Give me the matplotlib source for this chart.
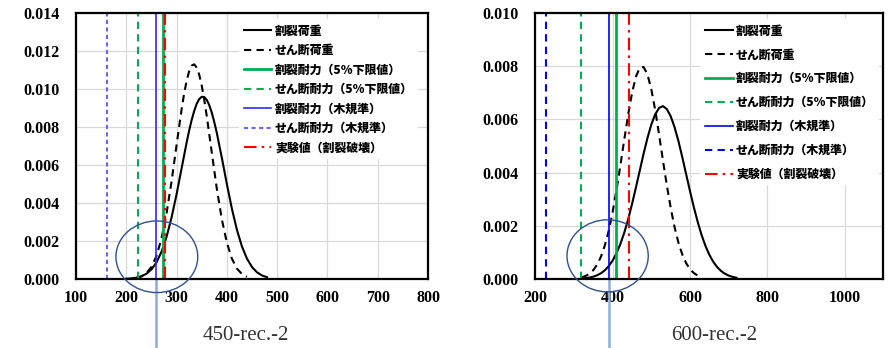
import matplotlib
matplotlib.use("Agg")
import matplotlib.pyplot as plt
from matplotlib.patches import Ellipse
from matplotlib import transforms

# 450-rec.-2 : 荷重分布（割裂・せん断）
x_450_split = [200, 210, 220, 230, 240, 250, 260, 270, 280, 290, 300, 310, 320, 325, 330, 335,
               340, 345, 350, 355, 360, 365, 370, 375, 380, 390, 400, 410, 420, 430, 440, 450,
               460, 470, 480]
y_450_split = [0.000014, 0.000032, 0.000069, 0.000141, 0.000274, 0.000503, 0.000871, 0.001428,
               0.00221, 0.00323, 0.00446, 0.00582, 0.00718, 0.00781, 0.00837, 0.00884, 0.00922,
               0.00947, 0.00959, 0.00958, 0.00943, 0.00915, 0.00876, 0.00826, 0.00769, 0.00638,
               0.00500, 0.00370, 0.00259, 0.00171, 0.00107, 0.00063, 0.00035, 0.000185, 0.000092]
x_450_shear = [220, 230, 240, 250, 260, 270, 280, 290, 300, 310, 315, 320, 325, 330, 335, 340,
               345, 350, 355, 360, 370, 380, 390, 400, 410, 420, 430, 440]
y_450_shear = [0.000056, 0.000137, 0.000307, 0.000634, 0.00121, 0.00212, 0.00344, 0.00513,
               0.00705, 0.00893, 0.00975, 0.01043, 0.01093, 0.01123, 0.01130, 0.01113, 0.01076,
               0.01018, 0.00944, 0.00858, 0.00666, 0.00476, 0.00314, 0.00191, 0.00107, 0.00055,
               0.000263, 0.000115]
# 耐力・実験値（縦線）
v_450 = [273, 224, 259, 161, 277]

# 600-rec.-2
x_600_split = [320, 330, 340, 350, 360, 370, 380, 390, 400, 410, 420, 430, 440, 450, 460, 470,
               480, 490, 500, 510, 520, 530, 540, 550, 560, 570, 580, 590, 600, 610, 620, 630,
               640, 650, 660, 670, 680, 690, 700, 710, 720]
y_600_split = [0.000018, 0.000032, 0.000054, 0.000088, 0.000140, 0.000218, 0.000329, 0.000485,
               0.000695, 0.000969, 0.001316, 0.00174, 0.00224, 0.00281, 0.00343, 0.00407,
               0.00471, 0.00530, 0.00581, 0.00619, 0.00643, 0.00650, 0.00639, 0.00612, 0.00571,
               0.00519, 0.00458, 0.00394, 0.00330, 0.00269, 0.00214, 0.00165, 0.00124, 0.000909,
               0.000648, 0.000450, 0.000304, 0.000200, 0.000128, 0.000080, 0.000048]
x_600_shear = [320, 330, 340, 350, 360, 370, 380, 390, 400, 410, 420, 430, 440, 450, 460, 470,
               480, 490, 500, 510, 520, 530, 540, 550, 560, 570, 580, 590, 600, 610, 620, 630]
y_600_shear = [0.000062, 0.000113, 0.000198, 0.000334, 0.000543, 0.000846, 0.00127, 0.00182,
               0.00252, 0.00335, 0.00427, 0.00524, 0.00617, 0.00699, 0.00760, 0.00794, 0.00797,
               0.00769, 0.00713, 0.00635, 0.00543, 0.00446, 0.00353, 0.00268, 0.00195, 0.00137,
               0.00092, 0.000595, 0.00037, 0.000221, 0.000127, 0.000070]
v_600 = [408, 318, 390, 229, 442]

labels = ["割裂荷重", "せん断荷重", "割裂耐力（5%下限値）", "せん断耐力（5%下限値）",
          "割裂耐力（木規準）", "せん断耐力（木規準）", "実験値（割裂破壊）"]

GREEN = "#00B050"
RED = "#FF0000"

fig = plt.figure(figsize=(8.96, 3.48), dpi=100)
ax1 = fig.add_axes([0.0848, 0.1983, 0.3929, 0.7643])
ax2 = fig.add_axes([0.5974, 0.1983, 0.3886, 0.7643])

tick_font = dict(family="Liberation Serif", weight="bold", size=11.5)
legend_font = dict(family=["Noto Sans CJK JP", "DejaVu Sans"], weight="heavy", size=8.6)


def draw(ax, xs, ys, xd, yd, v, shear_blue_style, shear_blue_color, blue_solid_color):
    ax.plot(xs, ys, color="black", lw=1.5, label=labels[0])
    ax.plot(xd, yd, color="black", lw=1.5, ls=(0, (3.5, 2.5)), label=labels[1])
    ax.axvline(v[0], color=GREEN, lw=2, label=labels[2])
    ax.axvline(v[1], color=GREEN, lw=1.5, ls=(0, (3.5, 2.5)), label=labels[3])
    ax.axvline(v[2], color=blue_solid_color, lw=1.2, label=labels[4])
    ax.axvline(v[3], color=shear_blue_color, lw=1.5, ls=shear_blue_style, label=labels[5])
    ax.axvline(v[4], color=RED, lw=1.5, ls=(0, (6, 2.5, 1.2, 2.5)), label=labels[6])
    ax.grid(True, color="#D9D9D9", lw=0.9)
    ax.set_axisbelow(True)
    for s in ax.spines.values():
        s.set_linewidth(1.6)
    ax.tick_params(length=0)
    ax.tick_params(axis="y", pad=12)
    ax.tick_params(axis="x", pad=8)


draw(ax1, x_450_split, y_450_split, x_450_shear, y_450_shear, v_450,
     (0, (2, 1.6)), "#6666FF", "#2A2AFF")
ax1.set_xlim(100, 800)
ax1.set_ylim(0, 0.014)
ax1.set_xticks(range(100, 801, 100))
ax1.set_yticks([0.0, 0.002, 0.004, 0.006, 0.008, 0.010, 0.012, 0.014])
ax1.set_yticklabels([f"{t:.3f}" for t in ax1.get_yticks()], **tick_font)
ax1.set_xticklabels([str(t) for t in range(100, 801, 100)], **tick_font)

draw(ax2, x_600_split, y_600_split, x_600_shear, y_600_shear, v_600,
     (0, (3.5, 2.5)), "#0000FF", "#0000FF")
ax2.set_xlim(200, 1100)
ax2.set_ylim(0, 0.010)
ax2.set_xticks(range(200, 1001, 200))
ax2.set_yticks([0.0, 0.002, 0.004, 0.006, 0.008, 0.010])
ax2.set_yticklabels([f"{t:.3f}" for t in ax2.get_yticks()], **tick_font)
ax2.set_xticklabels([str(t) for t in range(200, 1001, 200)], **tick_font)

leg_kw = dict(loc="upper left", prop=legend_font, frameon=True, facecolor="white",
              edgecolor="none", framealpha=1, fancybox=False, handlelength=2.3,
              handletextpad=0.3, borderpad=0.45)
leg1 = ax1.legend(bbox_to_anchor=(0.445, 1.0), labelspacing=0.63, **leg_kw)
leg2 = ax2.legend(bbox_to_anchor=(0.455, 1.0), labelspacing=1.0, **leg_kw)
# 凡例の白地は枠線の下に置く
leg1.set_zorder(2.3)
leg2.set_zorder(2.3)

# 注目範囲の丸印と引出し線
for ax, cx, cy, w, h in [(ax1, 260.8, 0.00117, 162.7, 0.00377),
                         (ax2, 387, 0.00087, 210, 0.00271)]:
    ax.add_patch(Ellipse((cx, cy), w, h, fill=False, edgecolor="#2F528F", lw=1.0,
                         clip_on=False, zorder=5))

for ax, xv in [(ax1, v_450[2]), (ax2, v_600[2])]:
    tr = transforms.blended_transform_factory(ax.transData, ax.transAxes)
    ax.plot([xv, xv], [0, -0.26], color="#8FAADC", lw=1.8, transform=tr, clip_on=False)

fig.text(246 / 896, 1 - 335 / 348, "450-rec.-2", ha="center", va="center",
         family="Liberation Serif", size=15, color="#333333")
fig.text(714 / 896, 1 - 335 / 348, "600-rec.-2", ha="center", va="center",
         family="Liberation Serif", size=15, color="#333333")

fig.savefig("out.png", dpi=100)
